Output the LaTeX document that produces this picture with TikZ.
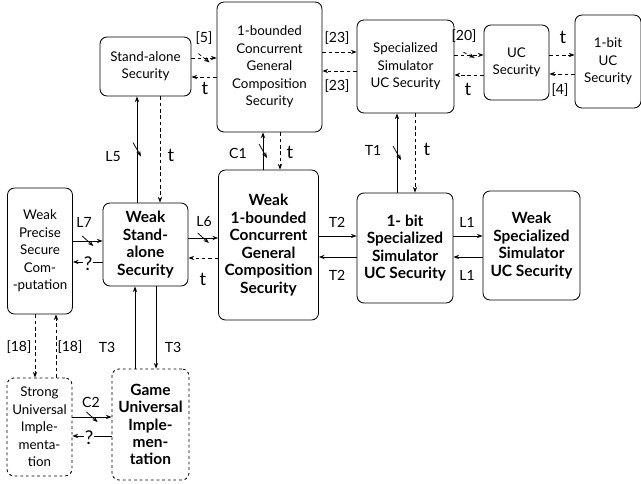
\documentclass[tikz,border=0pt]{standalone}
\usepackage{fontspec}
\setmainfont{Lato}
\usetikzlibrary{arrows.meta}

\begin{document}
\begin{tikzpicture}[
    x=0.025cm, y=-0.025cm,
    box/.style={rectangle, rounded corners=5pt, draw, line width=0.6pt, align=center, inner sep=1pt, font=\fontsize{9.5}{12.4}\selectfont},
    wbox/.style={box, font=\fontsize{11}{12.4}\selectfont\bfseries},
    dbox/.style={box, dash pattern=on 2pt off 2pt},
    dwbox/.style={wbox, dash pattern=on 2pt off 2pt},
    imp/.style={-{Stealth[length=4pt, width=3pt]}, line width=0.55pt},
    dimp/.style={imp, dash pattern=on 2.5pt off 2pt},
    lbl/.style={font=\fontsize{10}{12}\selectfont, inner sep=1pt},
    tlbl/.style={font=\fontsize{13}{14}\selectfont, inner sep=1pt},
    qlbl/.style={lbl, fill=white, inner sep=0.5pt, font=\fontsize{13.5}{14}\selectfont},
    hcut/.style={inner sep=0pt, minimum width=0.28cm, minimum height=0.22cm,
        path picture={\draw[line width=0.55pt] (path picture bounding box.north west) -- (path picture bounding box.south east);}},
    vcut/.style={hcut, minimum width=0.2cm, minimum height=0.35cm}
]
    \useasboundingbox (0,0) rectangle (641,484);

    % Top row
    \node[box, minimum width=2.275cm, minimum height=1.475cm] (sa) at (145.5,66.5) {Stand-alone\\Security};
    \node[box, minimum width=2.625cm, minimum height=3.25cm] (cgc) at (269.5,67) {1-bounded\\Concurrent\\General\\Composition\\Security};
    \node[box, minimum width=2.425cm, minimum height=2.325cm] (ssuc) at (405.5,66.5) {Specialized\\Simulator\\UC Security};
    \node[box, minimum width=1.625cm, minimum height=1.875cm] (uc) at (516.5,62.5) {UC\\Security};
    \node[box, minimum width=1.65cm, minimum height=2.325cm] (bituc) at (608,61.5) {1-bit\\UC\\Security};

    % Middle row
    \node[box, minimum width=1.625cm, minimum height=3.15cm] (wpsc) at (40,251) {Weak\\Precise\\Secure\\Com-\\-putation};
    \node[wbox, minimum width=2.125cm, minimum height=2.075cm] (wsa) at (145.5,244.5) {Weak\\Stand-\\alone\\Security};
    \node[wbox, minimum width=2.5cm, minimum height=3.75cm] (wcgc) at (268.5,245) {Weak\\1-bounded\\Concurrent\\General\\Composition\\Security};
    \node[wbox, minimum width=2.4cm, minimum height=2.75cm] (bitssuc) at (405,248) {1- bit\\Specialized\\Simulator\\UC Security};
    \node[wbox, minimum width=2.425cm, minimum height=2.725cm] (wssuc) at (531.5,245.5) {Weak\\Specialized\\Simulator\\UC Security};

    % Bottom row
    \node[dbox, minimum width=1.625cm, minimum height=2.45cm] (sui) at (39.5,427) {Strong\\Universal\\Imple-\\menta-\\tion};
    \node[dwbox, minimum width=1.925cm, minimum height=2.775cm] (gui) at (150.5,424.5) {Game\\Universal\\Imple-\\men-\\tation};

    % Top row arrows
    \draw[dimp] (sa.east |- 0,58) -- node[hcut] (c5) {} (cgc.west |- 0,58);
    \draw[dimp] (cgc.west |- 0,77) -- (sa.east |- 0,77);
    \draw[dimp] (cgc.east |- 0,52) -- (ssuc.west |- 0,52);
    \draw[dimp] (ssuc.west |- 0,71) -- (cgc.east |- 0,71);
    \draw[dimp] (ssuc.east |- 0,55) -- node[hcut, minimum height=0.14cm] (c20) {} (uc.west |- 0,55);
    \draw[dimp] (uc.west |- 0,75) -- (ssuc.east |- 0,75);
    \draw[dimp] (uc.east |- 0,55) -- (bituc.west |- 0,55);
    \draw[dimp] (bituc.west |- 0,74) -- (uc.east |- 0,74);

    % Vertical arrows
    \draw[imp] (wsa.north -| 137,0) -- node[vcut] (cl5) {} (sa.south -| 137,0);
    \draw[dimp] (sa.south -| 160,0) -- (wsa.north -| 160,0);
    \draw[imp] (wcgc.north -| 263,0) -- node[vcut] (cc1) {} (cgc.south -| 263,0);
    \draw[dimp] (cgc.south -| 280,0) -- (wcgc.north -| 280,0);
    \draw[imp] (bitssuc.north -| 397,0) -- node[vcut] (ct1) {} (ssuc.south -| 397,0);
    \draw[dimp] (ssuc.south -| 415,0) -- (bitssuc.north -| 415,0);

    % Middle row arrows
    \draw[imp] (wpsc.east |- 0,241) -- node[hcut, minimum height=0.25cm] (cl7) {} (wsa.west |- 0,241);
    \draw[imp] (wsa.west |- 0,262) -- (wpsc.east |- 0,262);
    \draw[imp] (wsa.east |- 0,238) -- node[hcut, minimum height=0.25cm] (cl6) {} (wcgc.west |- 0,238);
    \draw[dimp] (wcgc.west |- 0,258) -- (wsa.east |- 0,258);
    \draw[imp] (wcgc.east |- 0,236) -- (bitssuc.west |- 0,236);
    \draw[imp] (bitssuc.west |- 0,257) -- (wcgc.east |- 0,257);
    \draw[imp] (bitssuc.east |- 0,236) -- (wssuc.west |- 0,236);
    \draw[imp] (wssuc.west |- 0,257) -- (bitssuc.east |- 0,257);

    % Bottom arrows
    \draw[dimp] (wpsc.south -| 35,0) -- (sui.north -| 35,0);
    \draw[dimp] (sui.north -| 56,0) -- (wpsc.south -| 56,0);
    \draw[imp] (gui.north -| 135,0) -- (wsa.south -| 135,0);
    \draw[imp] (wsa.south -| 156,0) -- (gui.north -| 156,0);
    \draw[imp] (sui.east |- 0,417) -- node[hcut, minimum height=0.25cm] (cc2) {} (gui.west |- 0,417);
    \draw[imp] (gui.west |- 0,436) -- (sui.east |- 0,436);

    % Labels
    \node[lbl] (l5) at (204,38) {[5]};
    \node[tlbl] (t5) at (205,88) {t};
    \node[lbl] (l23a) at (337,38) {[23]};
    \node[lbl] (l23b) at (337,86) {[23]};
    \node[lbl] (l20) at (464,36) {[20]};
    \node[tlbl] (t20) at (468,89) {t};
    \node[tlbl] (t4) at (563,37) {t};
    \node[lbl] (l4) at (560,90) {[4]};
    \node[lbl] (ll5) at (113,157) {L5};
    \node[tlbl] (tl5) at (171,155) {t};
    \node[lbl] (lc1) at (238,153) {C1};
    \node[tlbl] (tc1) at (290,152) {t};
    \node[lbl] (lt1) at (373,150) {T1};
    \node[tlbl] (tt1) at (427,149) {t};
    \node[lbl] (ll7) at (84,222) {L7};
    \node[qlbl] (q7) at (88,264) {?};
    \node[lbl] (ll6) at (204,222) {L6};
    \node[tlbl] (tl6) at (203,279) {t};
    \node[lbl] (lt2a) at (337,222) {T2};
    \node[lbl] (lt2b) at (337,275) {T2};
    \node[lbl] (ll1a) at (467,222) {L1};
    \node[lbl] (ll1b) at (467,275) {L1};
    \node[lbl] (l18a) at (19,347) {[18]};
    \node[lbl] (l18b) at (70,347) {[18]};
    \node[lbl] (lt3a) at (107,347) {T3};
    \node[lbl] (lt3b) at (173,347) {T3};
    \node[lbl] (lc2) at (91,402) {C2};
    \node[qlbl] (q2) at (89,438) {?};
\end{tikzpicture}
\end{document}
